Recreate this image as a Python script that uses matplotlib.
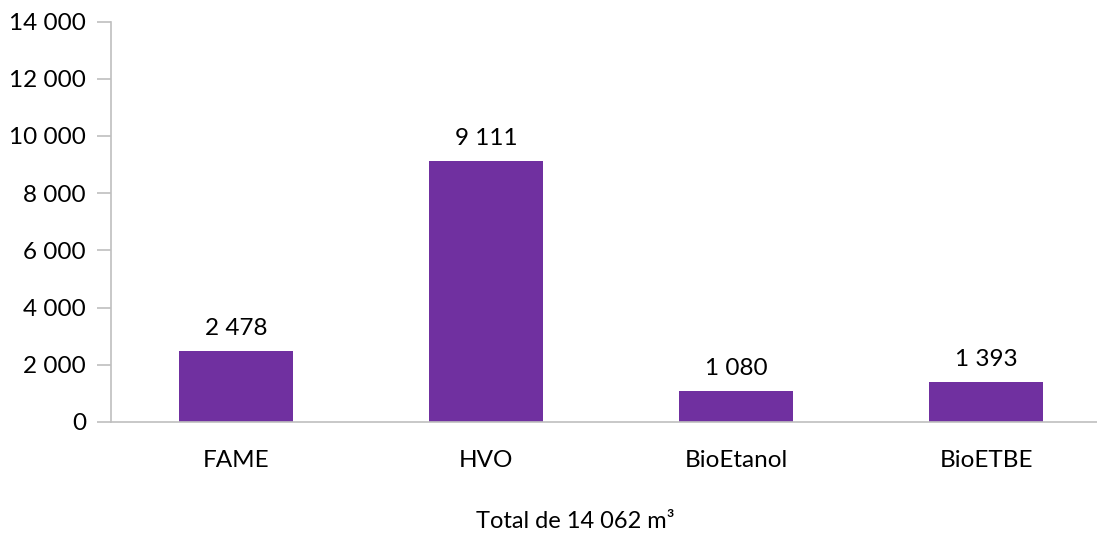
import matplotlib
matplotlib.use("Agg")
import matplotlib.pyplot as plt
from matplotlib.ticker import FuncFormatter

categories = ["FAME", "HVO", "BioEtanol", "BioETBE"]
values = [2478, 9111, 1080, 1393]
yticks = [0, 2000, 4000, 6000, 8000, 10000, 12000, 14000]
xlabel = "Total de 14 062 m³"

plt.rcParams['font.family'] = ['Lato', 'DejaVu Sans']
W, H = 1097, 533
fig = plt.figure(figsize=(W / 100, H / 100), dpi=100)
left, right, top, bottom = 111, 1111, 21.5, 422
ax = fig.add_axes([left / W, (H - bottom) / H, (right - left) / W, (bottom - top) / H])

def fmt(v):
    return f"{int(v):,}".replace(",", " ")

x = range(len(categories))
bars = ax.bar(x, values, width=0.456, color="#7030A0")
ax.set_xlim(-0.5, len(categories) - 0.5)
ax.set_ylim(0, 14000)
ax.set_yticks(yticks)
ax.yaxis.set_major_formatter(FuncFormatter(lambda v, p: fmt(v)))
ax.set_xticks(list(x))
ax.set_xticklabels(categories)

for s in ["top", "right"]:
    ax.spines[s].set_visible(False)
for s in ["left", "bottom"]:
    ax.spines[s].set_color("#BFBFBF")
    ax.spines[s].set_linewidth(1.2)
ax.tick_params(axis="y", length=10, width=1.2, color="#BFBFBF", labelsize=17.5, pad=8, labelcolor="#000000")
ax.tick_params(axis="x", length=0, labelsize=17.5, pad=20, labelcolor="#000000")

for b, v in zip(bars, values):
    ax.annotate(fmt(v), (b.get_x() + b.get_width() / 2, v), xytext=(0, 9),
                textcoords="offset points", ha="center", va="bottom", fontsize=17.5, color="#000000")

fig.text(575 / W, 1 - 521 / H, xlabel, ha="center", va="center", fontsize=17, color="#000000")
fig.savefig("out.png", dpi=100)
